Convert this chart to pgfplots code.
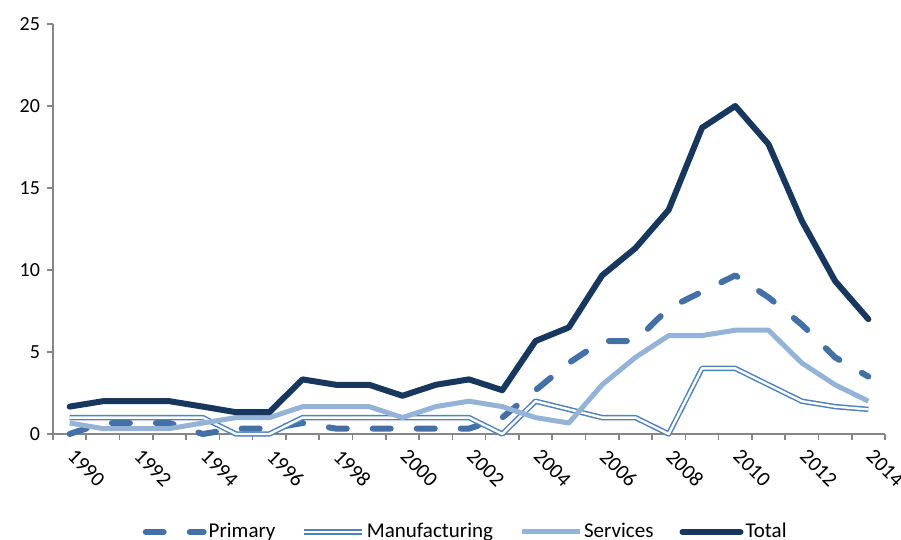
\documentclass[border=0pt]{standalone}
\usepackage{fontspec}
\setmainfont{Carlito}
\usepackage{pgfplots}
\pgfplotsset{compat=1.18}
\definecolor{cTotal}{HTML}{17375E}
\definecolor{cPrim}{HTML}{4470A8}
\definecolor{cManu}{HTML}{4F81BD}
\definecolor{cServ}{HTML}{95B3D7}
\definecolor{axgray}{HTML}{868686}
\begin{document}
\fontsize{10}{12}\selectfont
\begin{tikzpicture}
\begin{axis}[
  name=ax,
  scale only axis, width=416pt, height=205pt,
  xmin=-0.5, xmax=24.5, ymin=0, ymax=25,
  clip=false,
  axis x line*=bottom, axis y line*=left,
  axis line style={draw=axgray, line width=0.8pt, -},
  tick style={draw=axgray, line width=0.8pt},
  tick align=outside,
  major tick length=3pt,
  ytick={0,5,...,25},
  xtick={-0.5,0.5,...,24.5},
  xticklabels={},
  extra x ticks={0,2,...,24},
  extra x tick labels={1990,1992,1994,1996,1998,2000,2002,2004,2006,2008,2010,2012,2014},
  extra x tick style={major tick length=0pt},
  xticklabel style={xshift=3.3pt, yshift=-2pt, rotate=-45, anchor=north west, font=\fontsize{10.5}{12}\selectfont},
  yticklabel style={font=\fontsize{10}{12}\selectfont},
  /pgf/number format/assume math mode=true,
  legend columns=4,
  legend style={draw=none, fill=none, at={(0.496,-0.239)}, anchor=center,
    font=\fontsize{10.5}{12}\selectfont,
    /tikz/every even column/.append style={column sep=12pt},
    nodes={inner sep=1pt}},
  legend image code/.code={\draw[#1] (0pt,0pt) -- (29pt,0pt);},
]
\addplot[cPrim, line width=3pt, line cap=round, line join=round, dash pattern=on 9pt off 13pt] coordinates {
(0,0) (1,0.67) (2,0.67) (3,0.67) (4,0) (5,0.33) (6,0.33) (7,0.67) (8,0.33) (9,0.33)
(10,0.33) (11,0.33) (12,0.33) (13,1.0) (14,2.67) (15,4.33) (16,5.67) (17,5.67) (18,7.67) (19,8.67)
(20,9.67) (21,8.33) (22,6.67) (23,4.67) (24,3.5)};
\addlegendentry{Primary}
\addplot[draw=cManu, line width=0.75pt, double=white, double distance=1.2pt, line join=round] coordinates {
(0,1) (1,1) (2,1) (3,1) (4,1) (5,0) (6,0) (7,1) (8,1) (9,1)
(10,1) (11,1) (12,1) (13,0) (14,2) (15,1.5) (16,1) (17,1) (18,0) (19,4)
(20,4) (21,3) (22,2) (23,1.67) (24,1.5)};
\addlegendentry{Manufacturing}
\addplot[cServ, line width=2.5pt, line join=round] coordinates {
(0,0.67) (1,0.33) (2,0.33) (3,0.33) (4,0.67) (5,1) (6,1) (7,1.67) (8,1.67) (9,1.67)
(10,1) (11,1.67) (12,2) (13,1.67) (14,1) (15,0.67) (16,3) (17,4.67) (18,6) (19,6)
(20,6.33) (21,6.33) (22,4.33) (23,3) (24,2)};
\addlegendentry{Services}
\addplot[cTotal, line width=3pt, line join=round, line cap=round] coordinates {
(0,1.67) (1,2) (2,2) (3,2) (4,1.67) (5,1.33) (6,1.33) (7,3.33) (8,3) (9,3)
(10,2.33) (11,3) (12,3.33) (13,2.67) (14,5.67) (15,6.5) (16,9.67) (17,11.33) (18,13.67) (19,18.67)
(20,20) (21,17.67) (22,13) (23,9.33) (24,7)};
\addlegendentry{Total}
\end{axis}
\pgfresetboundingbox
\path[use as bounding box] ([xshift=-26.5pt,yshift=-52.5pt]ax.south west) rectangle ([xshift=8pt,yshift=12pt]ax.north east);
\end{tikzpicture}
\end{document}
